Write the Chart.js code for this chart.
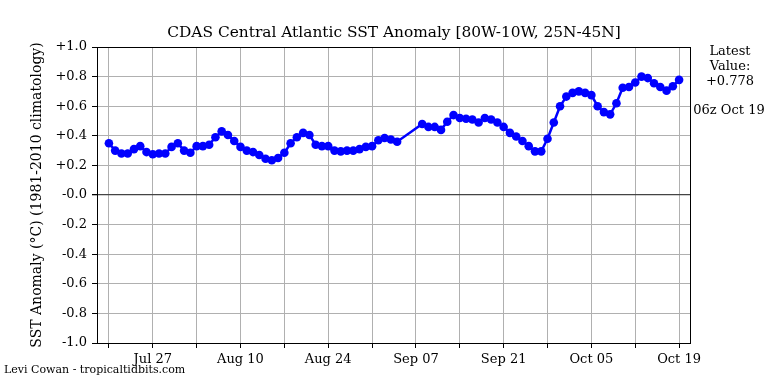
<!DOCTYPE html>
<html>
<head>
<meta charset="utf-8">
<script src="https://cdn.jsdelivr.net/npm/chart.js@4"></script>
<style>
  body { margin: 0; background: #fff; }
  #wrap { width: 768px; height: 384px; }
</style>
</head>
<body>
<div id="wrap"><canvas id="sst_chart" width="768" height="384"></canvas></div>
<script>
// daily SST anomaly, Jul 20 .. Oct 19 (null = missing day)
const anomaly = [
    0.35, 0.30, 0.28, 0.28, 0.31, 0.33, 0.29, 0.275, 0.28, 0.28,
    0.325, 0.35, 0.30, 0.285, 0.33, 0.33, 0.34, 0.39, 0.43, 0.405,
    0.365, 0.325, 0.30, 0.29, 0.27, 0.245, 0.235, 0.25, 0.285, 0.35,
    0.39, 0.42, 0.405, 0.34, 0.33, 0.33, 0.30, 0.295, 0.30, 0.30,
    0.31, 0.325, 0.33, 0.37, 0.385, 0.375, 0.36, null, null, null,
    0.48, 0.46, 0.46, 0.44, 0.495, 0.54, 0.52, 0.515, 0.51, 0.49,
    0.52, 0.51, 0.49, 0.46, 0.42, 0.395, 0.365, 0.33, 0.295, 0.295,
    0.38, 0.49, 0.60, 0.665, 0.69, 0.70, 0.69, 0.675, 0.60, 0.56,
    0.545, 0.62, 0.725, 0.73, 0.76, 0.80, 0.79, 0.755, 0.73, 0.705,
    0.735, 0.778
]
// x ticks every 7 days (day index from Jul 20), labels every 14
const xTickValues = [0, 7, 14, 21, 28, 35, 42, 49, 56, 63, 70, 77, 84, 91]
const xTickLabels = ['', 'Jul 27', '', 'Aug 10', '', 'Aug 24', '', 'Sep 07', '', 'Sep 21', '', 'Oct 05', '', 'Oct 19']
const yTickLabels = ['-1.0', '-0.8', '-0.6', '-0.4', '-0.2', '-0.0', '+0.2', '+0.4', '+0.6', '+0.8', '+1.0']

const titleText = 'CDAS Central Atlantic SST Anomaly [80W-10W, 25N-45N]'
const latestText = ['Latest', 'Value:', '+0.778']
const latestTime = '06z Oct 19'
const credit = 'Levi Cowan - tropicaltidbits.com'

Chart.defaults.font.family = "'DejaVu Serif', serif"
Chart.defaults.color = '#000'

const frame_plugin = {
    id: 'frame',
    afterDraw(chart) {
        const ctx = chart.ctx
        const a = chart.chartArea
        ctx.save()
        ctx.strokeStyle = '#000'
        ctx.lineWidth = 1
        ctx.strokeRect(a.left + 0.5, a.top + 0.5, a.right - a.left - 1, a.bottom - a.top)
        ctx.fillStyle = '#000'
        ctx.textAlign = 'center'
        ctx.textBaseline = 'middle'
        // title centred over the plot area
        ctx.font = "15.4px 'DejaVu Serif'"
        ctx.fillText(titleText, (a.left + a.right) / 2, 33)
        ctx.font = "13px 'DejaVu Serif'"
        latestText.forEach((t, i) => ctx.fillText(t, 730, 52 + i * 15))
        ctx.fillText(latestTime, 729, 111)
        ctx.textAlign = 'left'
        ctx.font = "11px 'DejaVu Serif'"
        ctx.fillText(credit, 4, 370)
        ctx.restore()
    }
}

new Chart(document.querySelector('#sst_chart'), {
    type: 'line',
    data: {
        datasets: [{
            data: anomaly.map((v, i) => ({ x: i, y: v })),
            borderColor: '#0000ff',
            backgroundColor: '#0000ff',
            borderWidth: 2.5,
            pointRadius: 4.3,
            pointBorderWidth: 0,
            spanGaps: true,
            tension: 0
        }]
    },
    options: {
        responsive: false,
        animation: false,
        layout: { padding: { left: 0, right: 77, top: 47, bottom: 0 } },
        plugins: {
            legend: false,
            tooltip: { enabled: false },
            title: { display: false }
        },
        scales: {
            x: {
                type: 'linear',
                min: -1.9,
                max: 92.9,
                afterBuildTicks: scale => { scale.ticks = xTickValues.map(v => ({ value: v })) },
                afterFit: scale => { scale.height = 41 },
                ticks: {
                    autoSkip: false,
                    maxRotation: 0,
                    padding: 4,
                    font: { size: 13 },
                    callback: (value, index) => xTickLabels[index]
                },
                grid: { color: '#b0b0b0', tickColor: '#000', tickLength: 5 },
                border: { display: false }
            },
            y: {
                min: -1,
                max: 1,
                afterFit: scale => { scale.width = 97 },
                ticks: {
                    stepSize: 0.2,
                    padding: 5,
                    font: { size: 13 },
                    callback: (value, index) => yTickLabels[index]
                },
                grid: {
                    color: c => (c.tick && Math.abs(c.tick.value) < 1e-6) ? '#444' : '#b0b0b0',
                    lineWidth: c => (c.tick && Math.abs(c.tick.value) < 1e-6) ? 1.3 : 1,
                    tickColor: '#000',
                    tickLength: 5
                },
                border: { display: false },
                title: {
                    display: true,
                    text: 'SST Anomaly (°C) (1981-2010 climatology)',
                    font: { size: 14 },
                    padding: { top: 29, bottom: 0 }
                }
            }
        }
    },
    plugins: [frame_plugin]
})
</script>
</body>
</html>
